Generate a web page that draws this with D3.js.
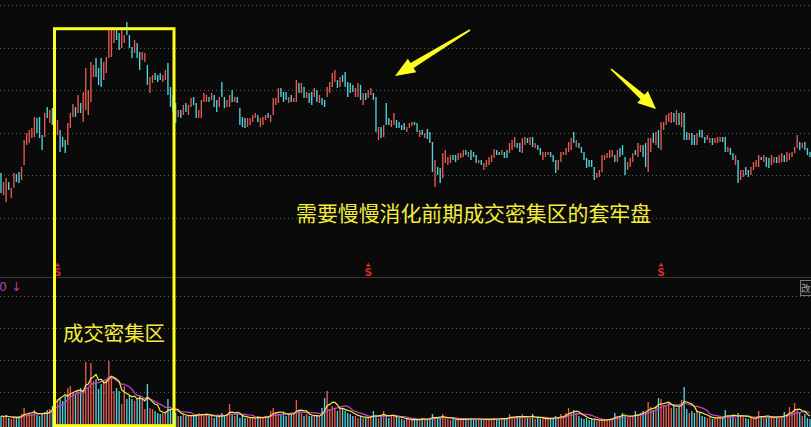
<!DOCTYPE html>
<html><head><meta charset="utf-8">
<script src="https://cdn.jsdelivr.net/npm/d3@7"></script>
<style>html,body{margin:0;padding:0;background:#0a0a0a;overflow:hidden}</style>
</head><body>
<svg id="c" width="811" height="427"></svg>
<script>
// ---- data ----
const highs = [
5.7,4.8,5.2,4.8,4.2,5.7,5.6,5.8,6.3,9.0,
9.7,10.0,10.2,11.3,11.2,11.3,9.5,11.7,12.3,12.0,
12.2,12.0,11.0,10.0,9.3,9.0,10.7,11.7,12.6,12.3,
13.5,12.7,13.8,16.2,14.0,16.8,16.5,17.2,16.2,17.2,
16.8,17.3,20.0,20.0,20.2,20.2,19.7,20.2,19.5,20.8,
19.5,18.3,19.0,18.7,17.8,17.8,17.7,16.5,15.3,15.5,
15.7,15.5,15.7,15.5,16.0,16.7,14.3,13.5,12.7,12.0,
12.0,12.5,12.7,12.5,13.2,13.3,12.7,12.0,13.0,13.7,
13.5,13.3,13.7,13.5,13.0,13.3,14.8,13.3,13.0,13.5,
14.0,13.3,13.3,12.2,11.3,11.2,11.2,11.2,11.5,11.7,
11.5,11.2,11.3,11.5,11.7,11.5,13.2,13.2,14.2,14.2,
13.8,13.8,13.3,13.5,13.2,15.0,14.7,14.7,14.3,13.8,
13.7,13.8,14.2,14.0,13.5,13.2,13.0,14.3,14.8,15.7,
16.0,15.0,15.3,15.5,15.8,14.8,14.7,14.5,14.2,14.7,
14.5,13.7,13.7,14.0,14.2,13.7,13.3,10.3,10.3,10.5,
12.7,11.2,11.0,11.7,11.0,10.8,10.5,10.7,10.3,10.7,
10.8,10.8,10.7,10.0,10.0,9.7,10.1,9.8,8.8,7.0,
6.3,6.2,7.7,8.0,7.3,7.5,7.5,7.5,7.7,7.7,
8.0,8.0,7.8,8.0,7.8,7.5,7.0,7.0,6.7,7.0,
7.3,7.5,8.1,8.0,7.8,8.0,7.8,8.0,8.7,9.0,
9.3,8.7,8.7,9.2,9.3,9.2,9.3,9.3,8.7,8.5,
8.2,7.8,7.8,7.8,7.8,7.5,7.0,7.0,7.8,7.8,
8.2,8.8,9.2,9.8,9.0,8.7,8.3,7.8,7.2,7.0,
7.0,6.3,5.7,6.0,7.5,7.5,7.7,8.0,8.0,7.5,
8.0,8.2,8.5,7.3,6.8,7.2,7.7,8.0,8.7,8.5,
8.5,8.7,9.2,9.2,9.7,9.8,10.0,10.8,10.8,11.5,
11.7,11.8,11.7,12.0,11.7,11.8,11.7,9.8,9.7,9.7,
9.5,9.7,10.0,10.0,9.3,9.5,9.2,9.2,9.2,9.3,
9.3,9.3,9.3,8.3,8.2,7.7,7.5,7.0,6.0,6.0,
6.3,6.0,6.3,6.8,7.0,7.5,7.3,7.5,7.3,7.2,
7.5,7.3,7.3,7.5,7.7,7.5,7.8,7.7,7.8,8.3,
9.5,8.8,8.7,8.8,8.2,7.8];
const lows = [
3.7,3.5,2.8,4.0,3.2,4.2,4.8,4.7,5.0,6.5,
8.5,8.7,9.2,9.3,9.7,9.2,8.0,9.3,11.2,10.7,
10.5,10.2,9.5,7.8,8.3,7.7,8.5,10.2,11.3,11.3,
11.7,11.7,10.8,12.0,11.5,12.8,15.3,15.3,14.5,14.3,
15.0,15.7,17.2,17.3,18.7,19.0,18.0,18.2,18.7,19.5,
18.2,17.2,17.7,17.2,16.0,17.0,16.8,14.5,13.7,14.7,
15.0,14.8,15.0,14.8,15.0,13.5,12.3,11.8,10.7,11.3,
11.2,11.5,11.8,11.5,12.3,12.5,11.2,11.2,11.2,12.8,
12.8,12.8,13.0,12.3,11.8,12.3,13.3,12.2,12.3,12.3,
12.8,12.8,12.7,10.5,10.3,10.2,10.3,10.5,10.8,11.2,
10.8,10.3,10.5,11.0,11.2,10.8,11.5,12.5,12.7,13.3,
12.8,13.0,12.7,12.8,12.8,12.8,13.7,13.7,13.2,13.2,
12.7,12.5,13.3,12.8,12.7,12.5,12.3,13.3,13.7,14.3,
14.8,14.2,14.3,14.8,14.3,13.3,13.7,13.8,13.3,13.3,
13.0,12.5,13.0,13.2,13.5,13.0,9.8,9.0,9.2,9.3,
10.5,10.5,10.3,10.5,10.2,10.2,10.0,10.0,9.8,10.2,
10.4,10.5,9.8,9.3,9.5,9.2,9.1,8.7,5.8,4.3,
5.5,4.7,5.2,6.7,6.5,6.7,7.0,6.8,7.0,7.2,
7.3,7.5,7.3,7.0,7.3,6.7,6.7,6.5,6.0,6.3,
6.5,6.8,7.2,7.5,7.5,7.5,7.2,7.2,7.7,8.0,
8.3,8.2,7.8,7.7,8.5,8.7,8.5,8.3,8.2,8.0,
7.5,7.0,7.3,7.5,7.3,6.8,5.7,6.0,6.8,7.5,
7.5,7.8,8.0,8.7,8.3,8.2,7.7,7.0,6.2,6.3,
6.3,5.0,5.2,5.3,5.8,7.0,7.2,7.2,7.3,6.8,
6.8,7.3,7.5,5.5,6.0,6.3,6.8,7.5,7.3,7.8,
7.3,6.3,5.8,7.8,8.7,8.5,8.2,8.0,10.0,10.5,
10.8,10.7,10.8,10.5,10.5,10.3,9.0,9.0,9.0,8.5,
8.5,8.5,9.3,9.2,8.7,9.0,8.7,8.5,8.7,8.7,
8.8,8.8,7.8,7.8,7.5,7.0,6.5,4.7,5.0,5.3,
5.5,5.3,5.5,6.0,6.3,6.3,7.0,6.8,6.3,6.2,
6.5,6.7,6.7,6.7,6.8,6.8,6.8,7.0,7.3,7.7,
8.2,8.0,8.2,8.0,7.5,7.3];
// r = up (red), c = down (cyan)
const directions =
"crrcrrccrr"+"rrrrcccrcr"+"ccrcccrrrc"+"rcrrrrrccc"+"rrrrrccrrc"+
"ccrccrrcrr"+"cccrrccccr"+"crcrrccrrr"+"rcrccrccrr"+"crccccrrrr"+
"crrrcrrrrc"+"ccrcrrcrcr"+"ccrcrccrrr"+"rcrcccccrr"+"crcrrccrcr"+
"ccrrccccrr"+"rccrcrcccr"+"ccrrrrccrr"+"rcrcccrcrr"+"rrrccrccrr"+
"rccrrcrcrc"+"crrrcccrrr"+"rrrcrccccc"+"ccrrrrrrrc"+"rcccrrrcrr"+
"ccrrcrcrrr"+"rrcrcrccrc"+"crcccrrcrr"+"rccrccrcrr"+"ccrrrrcrcc"+
"rrcrrcrrrr"+"rcrccc";
const volumes = [
12,11,13,10,9,11,10,12,14,20,
13,15,14,18,13,12,14,16,18,19,
22,49,29,30,27,32,40,42,35,34,
37,40,37,66,40,65,47,49,39,44,
47,49,67,52,37,40,37,24,42,29,
32,29,27,29,32,29,19,44,20,19,
17,15,14,15,15,29,19,17,15,12,
12,14,12,12,12,12,14,15,14,12,
14,12,12,10,12,12,15,12,14,24,
14,12,14,10,12,10,10,10,10,10,
12,10,10,12,12,17,20,15,14,14,
15,12,14,15,14,28,17,15,12,14,
12,12,12,12,12,20,30,37,19,22,
20,17,20,19,17,15,14,12,12,10,
12,10,10,10,12,17,12,10,12,17,
12,10,12,12,11,10,9,8,9,8,
8,9,8,9,10,9,8,10,14,11,
9,10,14,10,9,8,9,8,9,9,
8,9,9,10,9,8,9,9,8,9,
8,9,10,9,9,10,9,10,14,11,
10,12,10,14,11,10,10,14,9,10,
9,10,9,10,9,10,12,10,14,11,
15,20,16,18,15,12,10,9,10,8,
9,8,7,7,9,8,9,9,10,15,
12,11,15,12,10,12,11,17,14,15,
17,16,26,21,18,22,30,29,23,22,
25,20,22,20,22,28,41,19,15,17,
15,17,15,12,11,10,11,9,10,11,
10,10,18,12,11,12,10,15,13,11,
10,9,10,9,10,17,11,10,11,10,
12,11,10,12,11,16,14,21,15,25,
18,15,12,14,10,9];
const priceGrid = [22.5, 18.25, 14, 9.75, 5.5, 1.25];
const volumeGrid = [36, 68, 100, 132];
const signalIdx = [22, 143, 257];
const note1 = "需要慢慢消化前期成交密集区的套牢盘";
const note2 = "成交密集区";

// ---- drawing ----
const W = 811, H = 427;
const N = Math.min(highs.length, lows.length, volumes.length, directions.length);
const svg = d3.select("#c");
const UP = "#e55b52", DOWN = "#52d3de", YEL = "#f4ee3a";

svg.append("rect").attr("width", W).attr("height", H).attr("fill", "#0a0a0a");

const x = d3.scaleLinear().domain([0, 315]).range([1, 810]);
const yP = d3.scaleLinear().domain([0, 23]).range([230, 0]);
const yV = d3.scaleLinear().domain([0, 100]).range([428, 328]);

// grid
svg.append("g").selectAll("line").data(priceGrid).join("line")
  .attr("x1", 0).attr("x2", W)
  .attr("y1", d => Math.round(yP(d)) + 0.5).attr("y2", d => Math.round(yP(d)) + 0.5)
  .attr("stroke", "#5c5c5c").attr("stroke-dasharray", "1,3");
svg.append("g").selectAll("line").data(volumeGrid).join("line")
  .attr("x1", 0).attr("x2", W)
  .attr("y1", d => Math.round(yV(d)) + 0.5).attr("y2", d => Math.round(yV(d)) + 0.5)
  .attr("stroke", "#5c5c5c").attr("stroke-dasharray", "1,3");
// separator
svg.append("line").attr("x1", 0).attr("x2", W).attr("y1", 277.5).attr("y2", 277.5)
  .attr("stroke", "#3a3a3a");

const idx = d3.range(N);
const col = i => directions[i] === "r" ? UP : DOWN;
const bw = 1.35;

// candles
svg.append("g").selectAll("rect").data(idx).join("rect")
  .attr("x", i => x(i) - bw / 2).attr("width", bw)
  .attr("y", i => yP(highs[i]))
  .attr("height", i => Math.max(1, yP(lows[i]) - yP(highs[i])))
  .attr("fill", col);

// volume bars
svg.append("g").selectAll("rect").data(idx).join("rect")
  .attr("x", i => x(i) - bw / 2).attr("width", bw)
  .attr("y", i => yV(volumes[i]))
  .attr("height", i => yV(0) - yV(volumes[i]))
  .attr("fill", col);

// volume moving averages
function ma(n) {
  return idx.map(i => d3.mean(volumes.slice(Math.max(0, i - n + 1), i + 1)));
}
const line = d3.line().x((d, i) => x(i)).y(d => yV(d));
svg.append("path").datum(ma(10)).attr("d", line).attr("fill", "none")
  .attr("stroke", "#d23fd6").attr("stroke-width", 1.2);
svg.append("path").datum(ma(5)).attr("d", line).attr("fill", "none")
  .attr("stroke", "#eeee44").attr("stroke-width", 1.2);

// signal markers
const sg = svg.append("g").selectAll("g").data(signalIdx).join("g")
  .attr("transform", d => `translate(${x(d)},0)`);
sg.append("path").attr("d", "M-2.5,266.5 L0,262.5 L2.5,266.5 Z").attr("fill", "#d42a2a");
sg.append("text").attr("y", 276).attr("text-anchor", "middle")
  .attr("font-family", "DejaVu Sans, sans-serif").attr("font-size", 10.5).attr("font-weight", "bold")
  .attr("fill", "#d42a2a").text("S");

// left label in volume panel
svg.append("text").attr("x", -1).attr("y", 291)
  .attr("font-family", "DejaVu Sans, sans-serif").attr("font-size", 12.5)
  .attr("fill", "#b23ab8").text("0 ↓");
// right small button
svg.append("rect").attr("x", 800.5).attr("y", 280.5).attr("width", 12).attr("height", 15)
  .attr("fill", "#111").attr("stroke", "#777");
svg.append("text").attr("x", 801).attr("y", 292)
  .attr("font-family", "Noto Sans CJK SC, sans-serif").attr("font-size", 9.5)
  .attr("fill", "#aaa").text("改");

// highlight box
svg.append("rect").attr("x", 54.5).attr("y", 28.7).attr("width", 119.5).attr("height", 397)
  .attr("fill", "none").attr("stroke", "#ffff1e").attr("stroke-width", 3);

// texts
svg.append("text").attr("x", 296).attr("y", 220.5)
  .attr("font-family", "Noto Sans CJK SC, sans-serif").attr("font-size", 20.9)
  .attr("fill", YEL).text(note1);
svg.append("text").attr("x", 63).attr("y", 340.5)
  .attr("font-family", "Noto Sans CJK SC, sans-serif").attr("font-size", 20.4)
  .attr("fill", YEL).text(note2);

// arrows
function arrow(t, p, L, Wd, s1, s0) {
  const dx = p[0] - t[0], dy = p[1] - t[1], len = Math.hypot(dx, dy);
  const ux = dx / len, uy = dy / len, nx = -uy, ny = ux;
  const bx = p[0] - ux * L, by = p[1] - uy * L;
  const pts = [
    [t[0] + nx * s0, t[1] + ny * s0], [bx + nx * s1, by + ny * s1], [bx + nx * Wd, by + ny * Wd],
    p, [bx - nx * Wd, by - ny * Wd], [bx - nx * s1, by - ny * s1], [t[0] - nx * s0, t[1] - ny * s0]];
  return "M" + pts.map(q => q.join(",")).join("L") + "Z";
}
svg.append("path").attr("d", arrow([470, 30], [395, 76], 20, 8, 3, 0.8)).attr("fill", "#ffff1e");
svg.append("path").attr("d", arrow([611, 69], [656, 109], 18, 8, 3, 0.8)).attr("fill", "#ffff1e");
</script>
</body></html>
